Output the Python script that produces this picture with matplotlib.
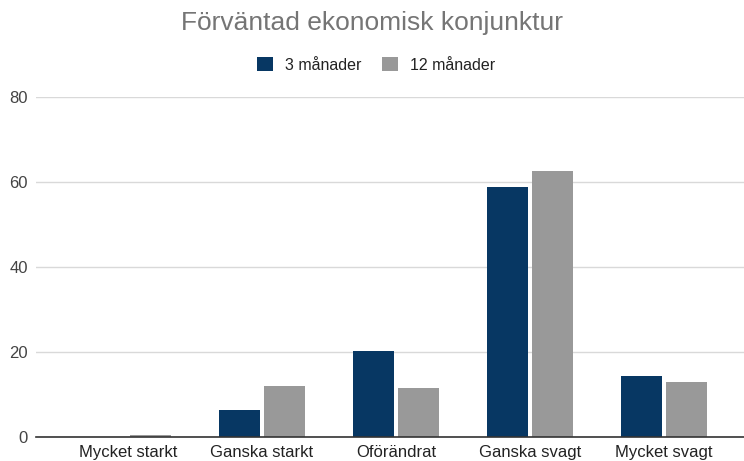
import matplotlib
matplotlib.use("Agg")
import matplotlib.pyplot as plt
import numpy as np

categories = ["Mycket starkt", "Ganska starkt", "Oförändrat", "Ganska svagt", "Mycket svagt"]
series_names = ["3 månader", "12 månader"]
values_3m = [0.0, 6.3, 20.2, 58.8, 14.3]
values_12m = [0.4, 12.0, 11.5, 62.6, 12.9]
yticks = [0, 20, 40, 60, 80]

colors = ["#073763", "#999999"]

plt.rcParams['font.family'] = ['Liberation Sans', 'DejaVu Sans']

W, H = 744, 461
fig = plt.figure(figsize=(W / 100, H / 100), dpi=100)
ax = fig.add_axes([36 / W, 1 - 437 / H, (744 - 36) / W, (437 - 97) / H])

x = np.arange(len(categories))
bw = 0.306
off = 0.168
ax.bar(x - off, values_3m, width=bw, color=colors[0], label=series_names[0], zorder=3)
ax.bar(x + off, values_12m, width=bw, color=colors[1], label=series_names[1], zorder=3)

ax.set_xlim(-0.687, 4.597)
ax.set_ylim(0, 80)
ax.set_yticks(yticks)
ax.set_xticks(x)
ax.set_xticklabels(categories, fontsize=12, color="#222222")
ax.set_yticklabels([str(t) for t in yticks], fontsize=12, color="#444444")
ax.tick_params(axis="both", length=0)
ax.tick_params(axis="x", pad=6)
ax.tick_params(axis="y", pad=6)
ax.grid(axis="y", color="#d9d9d9", linewidth=1, zorder=0)
for s in ["top", "right", "left"]:
    ax.spines[s].set_visible(False)
ax.spines["bottom"].set_color("#333333")
ax.spines["bottom"].set_linewidth(1.2)
ax.spines["bottom"].set_zorder(4)

fig.text(0.5, 1 - 23 / H, "Förväntad ekonomisk konjunktur", ha="center", va="center",
         fontsize=19, color="#757575")
fig.legend(loc="center", bbox_to_anchor=(0.505, 1 - 65 / H), ncol=2, frameon=False,
           fontsize=11.5, handlelength=1.0, handleheight=1.0, handletextpad=0.75,
           columnspacing=1.3, labelcolor="#222222")

fig.savefig("out.png", dpi=100)
